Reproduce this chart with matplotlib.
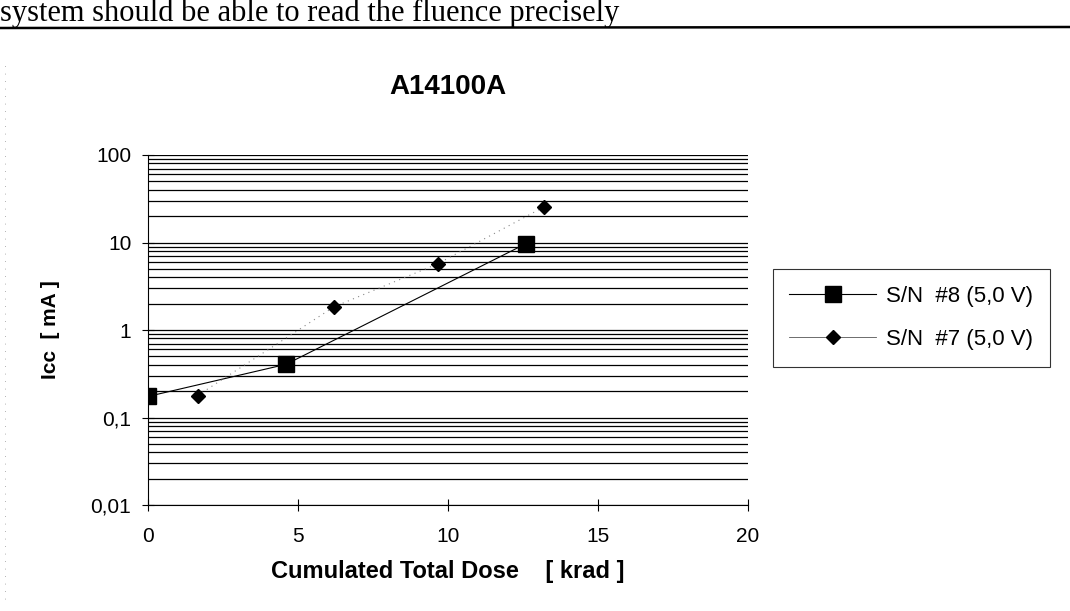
import matplotlib
matplotlib.use('Agg')
import matplotlib.pyplot as plt
from matplotlib.ticker import LogLocator, NullFormatter
from matplotlib.lines import Line2D

# Donnees
dose_sn8 = [0.0, 4.6, 12.6]
icc_sn8 = [0.174, 0.405, 9.7]
dose_sn7 = [1.65, 6.2, 9.65, 13.2]
icc_sn7 = [0.178, 1.84, 5.7, 25.5]

label_sn8 = "S/N  #8 (5,0 V)"
label_sn7 = "S/N  #7 (5,0 V)"
x_ticks = [0, 5, 10, 15, 20]
y_ticks = [0.01, 0.1, 1, 10, 100]
y_tick_labels = ["0,01", "0,1", "1", "10", "100"]

plt.rcParams['font.family'] = ['Liberation Sans', 'DejaVu Sans']

fig = plt.figure(figsize=(10.7, 6.11), dpi=100)
ax = fig.add_axes([148 / 1070, 1 - 505 / 611, 600 / 1070, 350 / 611])

ax.plot(dose_sn8, icc_sn8, color='black', lw=0.8, marker='s', markersize=11,
        markerfacecolor='black', markeredgecolor='black', zorder=4)
ax.plot(dose_sn7, icc_sn7, color='#888888', lw=0.8, ls=(0, (1, 4)), marker='D',
        markersize=7, markerfacecolor='black', markeredgecolor='black', zorder=4)

ax.set_yscale('log')
ax.set_ylim(0.01, 100)
ax.set_xlim(0, 20)
ax.set_yticks(y_ticks)
ax.set_yticklabels(y_tick_labels)
ax.yaxis.set_minor_locator(LogLocator(base=10, subs=range(2, 10)))
ax.yaxis.set_minor_formatter(NullFormatter())
ax.set_xticks(x_ticks)

ax.grid(True, which='both', axis='y', color='black', lw=0.9)
ax.grid(False, axis='x')
for side in ['top', 'right']:
    ax.spines[side].set_visible(False)
ax.spines['left'].set_linewidth(0.8)
ax.spines['bottom'].set_linewidth(0.8)

ax.tick_params(axis='y', which='major', direction='inout', length=8, width=0.8,
               labelsize=15, pad=8)
ax.tick_params(axis='y', which='minor', direction='in', length=4, width=0.6)
ax.tick_params(axis='x', which='major', direction='inout', length=8, width=0.8,
               labelsize=15, pad=12)

ax.set_title("A14100A", fontsize=20, fontweight='bold', pad=44)
ax.set_xlabel("Cumulated Total Dose    [ krad ]", fontsize=17, fontweight='bold',
              labelpad=10)
ax.set_ylabel("Icc  [ mA ]", fontsize=15, fontweight='bold', labelpad=22)

handles = [
    Line2D([], [], color='black', lw=0.8, marker='s', markersize=12,
           markerfacecolor='black', markeredgecolor='black'),
    Line2D([], [], color='#555555', lw=0.6, marker='D', markersize=7,
           markerfacecolor='black', markeredgecolor='black'),
]
leg = fig.legend(handles, [label_sn8, label_sn7], loc='center',
                 bbox_to_anchor=(911 / 1070, 1 - 318 / 611), fontsize=16,
                 frameon=True, fancybox=False, edgecolor='black',
                 handlelength=3.9, borderpad=0.75, labelspacing=1.0,
                 handletextpad=0.45, borderaxespad=0)
leg.get_frame().set_linewidth(0.8)

# fragment de texte de la page scannee
fig.text(0.0, 1 - 21 / 611, "system should be able to read the fluence precisely",
         family='Liberation Serif', fontsize=22, va='baseline', ha='left')
fig.add_artist(Line2D([0, 1], [1 - 28 / 611, 1 - 27 / 611], color='black', lw=1.8,
                      transform=fig.transFigure))
fig.add_artist(Line2D([5 / 1070, 5 / 1070], [0.02, 0.9], color='#999999', lw=0.6,
                      ls=(0, (1, 8)), transform=fig.transFigure))

fig.savefig('out.png', dpi=100)
plt.close(fig)
